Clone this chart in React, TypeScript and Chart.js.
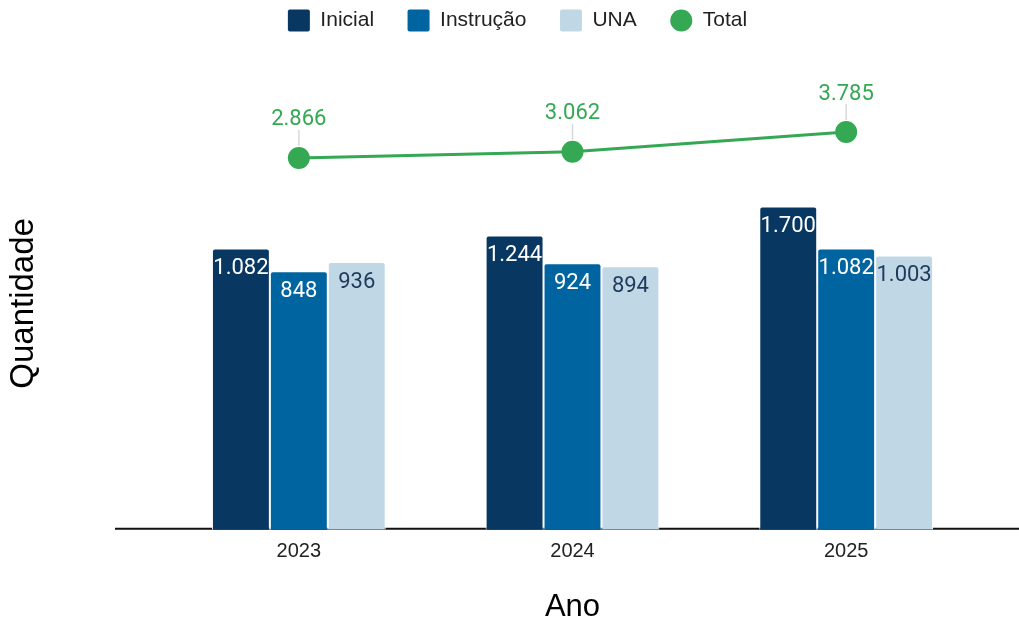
import React, { useEffect, useRef } from 'react';
import { Chart, registerables } from 'chart.js';

Chart.register(...registerables);

const categories = ['2023', '2024', '2025'];
const inicial = [1082, 1244, 1700];
const instrucao = [848, 924, 1082];
const una = [936, 894, 1003];
const total = [2866, 3062, 3785];
const seriesNames = ['Inicial', 'Instrução', 'UNA', 'Total'];
const colors = ['#083862', '#0064a0', '#c0d8e6', '#34a853'];
const labelColors = ['#ffffff', '#ffffff', '#1f3a5a', '#34a853'];

const AXIS_FONT = "'Liberation Sans', Arial, sans-serif";
const LABEL_FONT = 'Roboto, sans-serif';

const fmt = (v: number) => String(v).replace(/\B(?=(\d{3})+(?!\d))/g, '.');

const customPlugin = {
  id: 'customDraw',
  beforeLayout(chart: any) {
    const lg = chart.legend;
    if (lg && !lg._patched) {
      const orig = lg.fit.bind(lg);
      lg.fit = function () {
        orig();
        this.height += 35.5;
      };
      lg._patched = true;
    }
  },
  afterLayout(chart: any) {
    const lg = chart.legend;
    if (lg) {
      lg.left += 26;
      lg.right += 26;
    }
  },
  beforeDatasetsDraw(chart: any) {
    const { ctx, chartArea } = chart;
    ctx.save();
    ctx.strokeStyle = '#111';
    ctx.lineWidth = 2;
    ctx.beginPath();
    ctx.moveTo(chartArea.left - 47, chartArea.bottom - 1);
    ctx.lineTo(chart.width, chartArea.bottom - 1);
    ctx.stroke();
    ctx.restore();
  },
  afterDatasetsDraw(chart: any) {
    const { ctx } = chart;
    ctx.save();
    ctx.font = `22px ${LABEL_FONT}`;
    ctx.textAlign = 'center';
    ctx.textBaseline = 'middle';
    chart.data.datasets.forEach((ds: any, di: number) => {
      const meta = chart.getDatasetMeta(di);
      meta.data.forEach((el: any, i: number) => {
        const v = ds.data[i] as number;
        if (di < 3) {
          ctx.fillStyle = labelColors[di];
          ctx.fillText(fmt(v), el.x, el.y + 20);
        } else {
          ctx.strokeStyle = '#d9d9d9';
          ctx.lineWidth = 1.5;
          ctx.beginPath();
          ctx.moveTo(el.x, el.y - 12);
          ctx.lineTo(el.x, el.y - 28);
          ctx.stroke();
          ctx.fillStyle = labelColors[di];
          ctx.fillText(fmt(v), el.x, el.y - 38);
        }
      });
    });
    ctx.restore();
  },
};

export default function App() {
  const ref = useRef<HTMLCanvasElement | null>(null);

  useEffect(() => {
    if (!ref.current) return;
    const barBase = {
      type: 'bar' as const,
      borderColor: '#ffffff',
      borderWidth: 1,
      borderRadius: 3,
      borderSkipped: 'start' as const,
      categoryPercentage: 0.635,
      barPercentage: 1.0,
    };
    const chart = new Chart(ref.current, {
      type: 'bar',
      data: {
        labels: categories,
        datasets: [
          { ...barBase, label: seriesNames[0], data: inicial, backgroundColor: colors[0] },
          { ...barBase, label: seriesNames[1], data: instrucao, backgroundColor: colors[1] },
          { ...barBase, label: seriesNames[2], data: una, backgroundColor: colors[2] },
          {
            type: 'line' as const,
            label: seriesNames[3],
            data: total,
            borderColor: colors[3],
            backgroundColor: colors[3],
            borderWidth: 3,
            pointRadius: 11,
            pointBackgroundColor: colors[3],
            pointBorderWidth: 0,
            tension: 0,
          } as any,
        ],
      },
      options: {
        responsive: false,
        animation: false,
        layout: { padding: { left: 0, right: 36, top: 0, bottom: 0 } },
        plugins: {
          tooltip: { enabled: false },
          legend: {
            position: 'top',
            align: 'center',
            labels: {
              boxWidth: 22,
              boxHeight: 22,
              padding: 33.5,
              color: '#222',
              useBorderRadius: true,
              font: { size: 21, family: AXIS_FONT },
              generateLabels: (c: any) => {
                const items = (Chart.defaults.plugins.legend.labels as any).generateLabels(c);
                return items.map((it: any, i: number) => ({
                  ...it,
                  fillStyle: colors[i],
                  strokeStyle: 'rgba(0,0,0,0)',
                  lineWidth: 0,
                  borderRadius: i === 3 ? 11 : 2,
                }));
              },
            },
          },
        },
        scales: {
          x: {
            type: 'category',
            offset: true,
            grid: { display: false, drawTicks: false },
            border: { display: false },
            ticks: { color: '#222', padding: 10, font: { size: 20, family: AXIS_FONT } },
            title: {
              display: true,
              text: 'Ano',
              color: '#000',
              font: { size: 31, family: AXIS_FONT },
              padding: { top: 15, bottom: 4 },
            },
          },
          y: {
            type: 'logarithmic',
            min: 52.6,
            max: 6840,
            bounds: 'data',
            grid: { display: false, drawTicks: false },
            border: { display: false },
            ticks: { display: false },
            title: {
              display: true,
              text: 'Quantidade',
              color: '#000',
              font: { size: 33, family: AXIS_FONT },
              padding: { top: 4, bottom: 0 },
            },
            afterFit: (scale: any) => {
              scale.width = 162;
            },
          },
        },
      } as any,
      plugins: [customPlugin],
    });
    return () => chart.destroy();
  }, []);

  return (
    <div style={{ position: 'fixed', left: 0, top: -24, width: 1019, height: 654 }}>
      <canvas ref={ref} width={1019} height={654} style={{ display: 'block' }} />
    </div>
  );
}
